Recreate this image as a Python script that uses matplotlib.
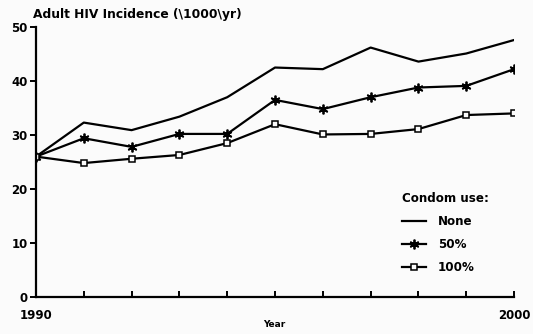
import numpy as np
import matplotlib.pyplot as plt

# Adult HIV incidence projections, thousands per year
years = list(range(1990, 2001))
none_use = [26.0, 32.3, 30.9, 33.4, 37.0, 42.5, 42.2, 46.2, 43.6, 45.1, 47.6]
half_use = [26.0, 29.4, 27.8, 30.2, 30.2, 36.5, 34.8, 37.0, 38.8, 39.1, 42.2]
full_use = [26.0, 24.8, 25.6, 26.3, 28.5, 32.0, 30.1, 30.2, 31.1, 33.7, 34.0]
series_labels = ['None', '50%', '100%']

plt.rcParams['font.family'] = ['DejaVu Sans']
plt.rcParams['font.weight'] = 'bold'

bg = '#fbfbfb'
fig = plt.figure(figsize=(5.33, 3.34), dpi=100)
fig.patch.set_facecolor(bg)
ax = fig.add_axes([0.0675, 0.111, 0.897, 0.808])
ax.set_facecolor(bg)

ax.plot(years, none_use, color='black', lw=1.6, label=series_labels[0])
ax.plot(years, half_use, color='black', lw=1.6, marker=(6, 2, 0),
        markersize=7, markeredgewidth=1.3, label=series_labels[1])
ax.plot(years, full_use, color='black', lw=1.6, marker='s', markersize=5,
        markerfacecolor=bg, markeredgewidth=1.1, label=series_labels[2])

ax.set_xlim(1990, 2000)
ax.set_ylim(0, 50)
for s in ['top', 'right']:
    ax.spines[s].set_visible(False)
for s in ['left', 'bottom']:
    ax.spines[s].set_linewidth(1.6)

ax.set_yticks(np.arange(0, 51, 10))
ax.tick_params(axis='y', direction='out', length=4, width=1.4, labelsize=8.5, pad=2)
ax.set_xticks(years)
ax.set_xticklabels(['1990'] + [''] * 9 + ['2000'])
ax.tick_params(axis='x', direction='in', length=4, width=1.4, labelsize=8.5, pad=9)
for lbl in ax.get_xticklabels() + ax.get_yticklabels():
    lbl.set_fontweight('heavy')

# axis titles placed directly on the figure
fig.text(0.514, 0.028, 'Year', fontsize=6.5, fontweight='heavy',
         ha='center', va='center')
fig.text(0.062, 0.957, 'Adult HIV Incidence (\\1000\\yr)', fontsize=8.8,
         fontweight='heavy', ha='left', va='center')

leg = ax.legend(title='Condom use:', frameon=False, fontsize=8.6,
                title_fontsize=8.6, handlelength=2.0, handletextpad=1.0,
                labelspacing=0.85, alignment='left', borderpad=0,
                borderaxespad=0, loc='upper left',
                bbox_to_anchor=(0.766, 0.39))
leg.get_title().set_fontweight('heavy')
for t in leg.get_texts():
    t.set_fontweight('heavy')

fig.savefig('out.png', dpi=100, facecolor=fig.get_facecolor())
